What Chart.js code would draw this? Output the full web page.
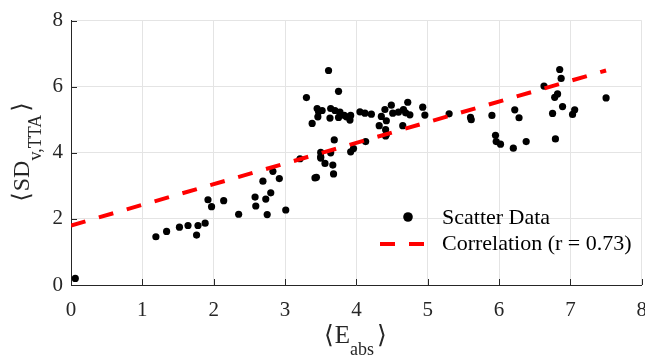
<!DOCTYPE html>
<html>
<head>
<meta charset="utf-8">
<script src="https://cdn.jsdelivr.net/npm/chart.js@4/dist/chart.umd.min.js"></script>
<style>
  html, body { margin: 0; padding: 0; background: #ffffff; overflow: hidden; }
  #wrap { width: 660px; height: 360px; }
</style>
</head>
<body>
<div id="wrap"><canvas id="c" width="660" height="360"></canvas></div>
<script>
// Mean absolute energy vs. mean SD (per sample)
const scatterX = [
  0.06, 1.19, 1.34, 1.52, 1.64, 1.78, 1.76, 1.88, 1.92, 1.97,
  2.14, 2.35, 2.58, 2.59, 2.73, 2.80, 2.75, 3.01, 2.69, 2.83,
  2.92, 3.21, 3.30, 3.38, 3.42, 3.44, 3.45, 3.47, 3.46, 3.52,
  3.50, 3.50, 3.50, 3.56, 3.61, 3.64, 3.63, 3.64, 3.67, 3.68,
  3.69, 3.70, 3.75, 3.75, 3.77, 3.83, 3.86, 3.92, 3.91, 3.92,
  3.96, 4.05, 4.12, 4.13, 4.21, 4.32, 4.35, 4.40, 4.42, 4.41,
  4.42, 4.41, 4.49, 4.51, 4.59, 4.65, 4.66, 4.69, 4.72, 4.75,
  4.93, 4.96, 5.30, 5.60, 5.61, 5.90, 5.95, 5.96, 6.02, 6.20,
  6.22, 6.28, 6.38, 6.63, 6.75, 6.79, 6.78, 6.82, 6.85, 6.87,
  6.89, 7.03, 7.06, 7.50
];
const scatterY = [
  0.20, 1.46, 1.62, 1.75, 1.80, 1.80, 1.51, 1.87, 2.58, 2.37,
  2.55, 2.14, 2.66, 2.39, 2.60, 2.79, 2.13, 2.27, 3.14, 3.44,
  3.22, 3.82, 5.67, 4.89, 3.24, 3.26, 5.34, 5.24, 5.09, 5.28,
  4.01, 3.88, 3.84, 3.68, 6.49, 4.00, 5.05, 5.34, 3.63, 3.36,
  4.39, 5.28, 5.86, 5.07, 5.23, 5.13, 5.09, 5.13, 4.99, 4.03,
  4.13, 5.24, 5.20, 4.34, 5.17, 4.82, 5.10, 5.31, 4.97, 4.70,
  4.55, 4.51, 5.44, 5.20, 5.23, 4.82, 5.31, 5.21, 5.53, 5.15,
  5.38, 5.14, 5.18, 5.07, 5.00, 5.13, 4.53, 4.34, 4.26, 4.14,
  5.30, 5.06, 4.34, 6.02, 5.19, 4.42, 5.68, 5.78, 6.52, 6.25,
  5.40, 5.16, 5.30, 5.66
];

// Linear fit end points
const fitX = [0, 7.5];
const fitY = [1.80, 6.49];

const xTickValues = [0, 1, 2, 3, 4, 5, 6, 7, 8];
const yTickValues = [0, 2, 4, 6, 8];

const seriesLabels = ['Scatter Data', 'Correlation (r = 0.73)'];
const xTitleParts = ['E', 'abs'];
const yTitleParts = ['SD', 'v,TTA'];

const SERIF = '"Liberation Serif", "Times New Roman", serif';
const BRACKET_FONT = '"DejaVu Serif", "Liberation Serif", serif';
const AXIS_COLOR = '#262626';
const GRID_COLOR = '#e4e4e4';

const scatterPoints = scatterX.map((x, i) => ({ x: x, y: scatterY[i] }));
const fitPoints = fitX.map((x, i) => ({ x: x, y: fitY[i] }));

// Inward tick marks on the left and bottom axes
const innerTicks = {
  id: 'innerTicks',
  afterDatasetsDraw(chart) {
    const { ctx, chartArea, scales } = chart;
    ctx.save();
    ctx.strokeStyle = AXIS_COLOR;
    ctx.lineWidth = 1;
    ctx.beginPath();
    xTickValues.forEach(v => {
      const px = Math.round(scales.x.getPixelForValue(v)) + 0.5;
      ctx.moveTo(px, chartArea.bottom);
      ctx.lineTo(px, chartArea.bottom - 6);
    });
    yTickValues.forEach(v => {
      const py = Math.round(scales.y.getPixelForValue(v)) + 0.5;
      ctx.moveTo(chartArea.left, py);
      ctx.lineTo(chartArea.left + 6, py);
    });
    ctx.stroke();
    ctx.restore();
  }
};

// Axis titles with subscripts between angle brackets
function titleRuns(parts, mainSize, subSize) {
  return [
    { t: '\u27E8', size: mainSize, dy: 0, f: BRACKET_FONT },
    { t: parts[0], size: mainSize, dy: 0, f: SERIF },
    { t: parts[1], size: subSize, dy: 12, f: SERIF },
    { t: '\u27E9', size: mainSize, dy: 0, f: BRACKET_FONT }
  ];
}
function drawRuns(ctx, runs, gaps) {
  let total = 0;
  runs.forEach((r, i) => {
    ctx.font = r.size + 'px ' + r.f;
    r.w = ctx.measureText(r.t).width;
    total += r.w + (gaps[i] || 0);
  });
  let x = -total / 2;
  runs.forEach((r, i) => {
    ctx.font = r.size + 'px ' + r.f;
    ctx.fillText(r.t, x, r.dy);
    x += r.w + (gaps[i] || 0);
  });
}
const axisTitles = {
  id: 'axisTitles',
  afterDraw(chart) {
    const { ctx, chartArea } = chart;
    ctx.save();
    ctx.fillStyle = AXIS_COLOR;
    ctx.textBaseline = 'alphabetic';
    ctx.textAlign = 'left';
    // x title
    ctx.save();
    ctx.translate((chartArea.left + chartArea.right) / 2 - 1, 343);
    drawRuns(ctx, titleRuns(xTitleParts, 25, 18), [1, 0, 3, 0]);
    ctx.restore();
    // y title
    ctx.save();
    ctx.translate(29, 152);
    ctx.rotate(-Math.PI / 2);
    drawRuns(ctx, titleRuns(yTitleParts, 24, 18), [1, 0, 3, 0]);
    ctx.restore();
    ctx.restore();
  }
};

// Legend drawn inside the plot area, without a frame
const innerLegend = {
  id: 'innerLegend',
  afterDraw(chart) {
    const { ctx } = chart;
    const ds = chart.data.datasets;
    ctx.save();
    ctx.font = '22px ' + SERIF;
    ctx.textBaseline = 'middle';
    ctx.textAlign = 'left';
    // marker entry
    ctx.beginPath();
    ctx.arc(408, 217, 4.8, 0, Math.PI * 2);
    ctx.fillStyle = ds[1].backgroundColor;
    ctx.fill();
    ctx.fillStyle = '#000000';
    ctx.fillText(ds[1].label, 442, 218);
    // dashed line entry
    ctx.strokeStyle = ds[0].borderColor;
    ctx.lineWidth = ds[0].borderWidth;
    ctx.setLineDash(ds[0].borderDash);
    ctx.beginPath();
    ctx.moveTo(380, 244);
    ctx.lineTo(426, 244);
    ctx.stroke();
    ctx.setLineDash([]);
    ctx.fillText(ds[0].label, 442, 244);
    ctx.restore();
  }
};

new Chart(document.getElementById('c'), {
  type: 'scatter',
  data: {
    datasets: [
      {
        type: 'line',
        label: seriesLabels[1],
        data: fitPoints,
        borderColor: '#ff0000',
        borderWidth: 4,
        borderDash: [15, 14],
        borderCapStyle: 'butt',
        pointRadius: 0,
        fill: false,
        tension: 0,
        order: 0
      },
      {
        label: seriesLabels[0],
        data: scatterPoints,
        backgroundColor: '#000000',
        borderColor: '#000000',
        borderWidth: 0,
        pointRadius: 3.6,
        order: 1
      }
    ]
  },
  options: {
    responsive: false,
    animation: false,
    devicePixelRatio: 1,
    layout: { padding: { top: 12, right: 13, left: 0, bottom: 0 } },
    plugins: {
      legend: { display: false },
      tooltip: { enabled: false },
      title: { display: false }
    },
    scales: {
      x: {
        type: 'linear',
        min: 0,
        max: 8,
        afterFit(scale) { scale.height = 75; },
        afterBuildTicks(scale) { scale.ticks = xTickValues.map(v => ({ value: v })); },
        ticks: {
          color: AXIS_COLOR,
          font: { family: SERIF, size: 21 },
          padding: 13,
          maxRotation: 0
        },
        grid: { color: GRID_COLOR, lineWidth: 1, drawTicks: false },
        border: { display: true, color: AXIS_COLOR, width: 1 }
      },
      y: {
        type: 'linear',
        min: 0,
        max: 8,
        afterFit(scale) { scale.width = 71; },
        afterBuildTicks(scale) { scale.ticks = yTickValues.map(v => ({ value: v })); },
        ticks: {
          color: AXIS_COLOR,
          font: { family: SERIF, size: 21 },
          padding: 8
        },
        grid: { color: GRID_COLOR, lineWidth: 1, drawTicks: false },
        border: { display: true, color: AXIS_COLOR, width: 1 }
      }
    }
  },
  plugins: [innerTicks, axisTitles, innerLegend]
});
</script>
</body>
</html>
